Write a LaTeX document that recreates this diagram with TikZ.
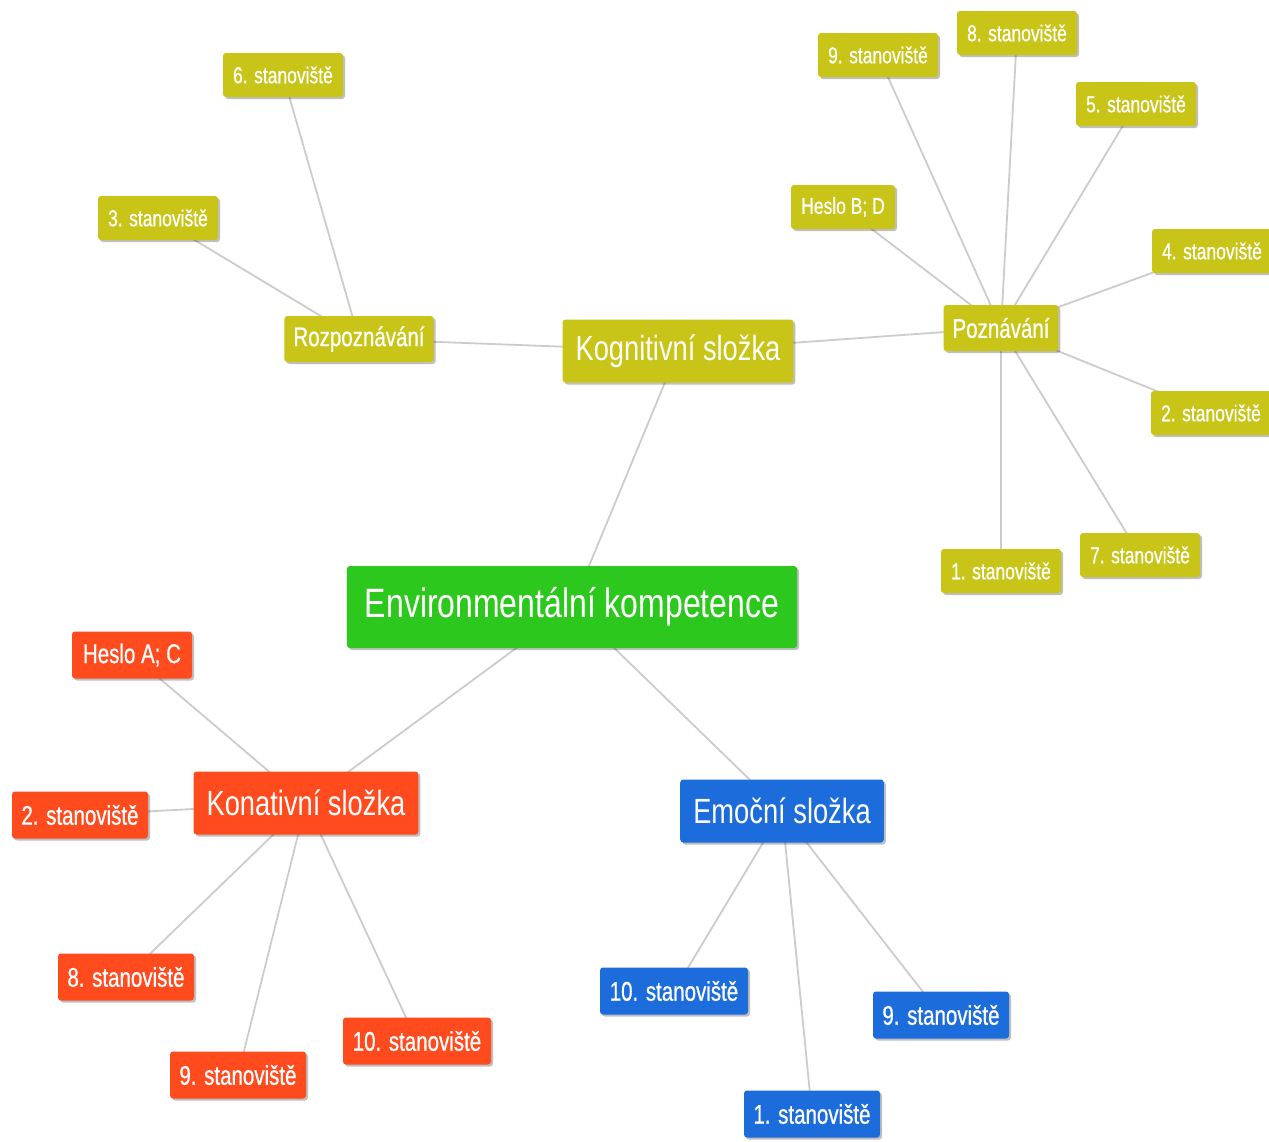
\documentclass[tikz,border=0pt]{standalone}
\usepackage{fontspec}
\setmainfont[FakeStretch=0.78]{Liberation Sans}
\newfontfamily\heavynarrow[FakeStretch=0.76,FakeBold=0.7]{Liberation Sans}
\usetikzlibrary{shadows,backgrounds}
\definecolor{ylw}{RGB}{201,196,24}
\definecolor{grn}{RGB}{45,200,30}
\definecolor{rd}{RGB}{255,75,30}
\definecolor{bl}{RGB}{28,108,220}
\definecolor{edgegray}{RGB}{204,204,204}
\tikzset{
  box/.style={rectangle, rounded corners=3pt, text=white, inner ysep=0pt,
    drop shadow={shadow xshift=2pt, shadow yshift=-2pt, opacity=0.25, fill=black}},
  ysmall/.style={box, fill=ylw, minimum width=120pt, minimum height=44pt, inner xsep=4pt,
    font=\heavynarrow\fontsize{23}{27}\selectfont},
  csmall/.style={box, minimum width=136pt, minimum height=47pt, inner xsep=4pt,
    font=\heavynarrow\fontsize{27}{31}\selectfont},
  rsmall/.style={csmall, fill=rd},
  bsmall/.style={csmall, fill=bl},
  midbox/.style={box, fill=ylw, minimum height=46pt, inner xsep=9pt,
    font=\heavynarrow\fontsize{27}{31}\selectfont},
  bigbox/.style={box, minimum height=63pt, inner xsep=13pt,
    font=\fontsize{35}{40}\selectfont},
  rootbox/.style={box, fill=grn, minimum height=82pt, inner xsep=18pt,
    font=\fontsize{41}{46}\selectfont},
  edge/.style={draw=edgegray, line width=1.8pt}
}
\begin{document}
\begin{tikzpicture}[x=1pt, y=-1pt]
\useasboundingbox (0,0) rectangle (1269,1141);
% root and main branches
\node[rootbox] (env) at (572,607) {Environmentální kompetence};
\node[bigbox, fill=ylw] (kog) at (678,351) {Kognitivní složka};
\node[bigbox, fill=rd] (kon) at (306,803) {Konativní složka};
\node[bigbox, fill=bl] (emo) at (782,811) {Emoční složka};
% cognitive
\node[midbox] (rozp) at (359,339) {Rozpoznávání};
\node[midbox] (pozn) at (1001,328) {Poznávání};
\node[ysmall] (ysix) at (283,75) {6. stanoviště};
\node[ysmall] (ythree) at (158,218) {3. stanoviště};
\node[ysmall] (ynine) at (878,55) {9. stanoviště};
\node[ysmall] (yeight) at (1017,33) {8. stanoviště};
\node[ysmall] (yfive) at (1136,104) {5. stanoviště};
\node[ysmall, minimum width=104pt] (hbd) at (843,207) {Heslo B; D};
\node[ysmall] (yfour) at (1212,251) {4. stanoviště};
\node[ysmall] (ytwo) at (1211,413) {2. stanoviště};
\node[ysmall] (yseven) at (1140,555) {7. stanoviště};
\node[ysmall] (yone) at (1001,571) {1. stanoviště};
% conative
\node[rsmall, minimum width=120pt] (hac) at (132,655) {Heslo A; C};
\node[rsmall] (rtwo) at (80,815) {2. stanoviště};
\node[rsmall] (reight) at (126,977) {8. stanoviště};
\node[rsmall] (rnine) at (238,1075) {9. stanoviště};
\node[rsmall, minimum width=148pt] (rten) at (417,1041) {10. stanoviště};
% emotional
\node[bsmall, minimum width=148pt] (bten) at (674,991) {10. stanoviště};
\node[bsmall] (bnine) at (941,1015) {9. stanoviště};
\node[bsmall] (bone) at (812,1114) {1. stanoviště};
\begin{scope}[on background layer]
  \fill[white] (0,0) rectangle (1269,1141);
  \draw[edge] (env.center) -- (kog.center);
  \draw[edge] (env.center) -- (kon.center);
  \draw[edge] (env.center) -- (emo.center);
  \draw[edge] (kog.center) -- (rozp.center);
  \draw[edge] (kog.center) -- (pozn.center);
  \draw[edge] (rozp.center) -- (ysix.center);
  \draw[edge] (rozp.center) -- (ythree.center);
  \foreach \t in {ynine,yeight,yfive,hbd,yfour,ytwo,yseven,yone}
    \draw[edge] (pozn.center) -- (\t.center);
  \foreach \t in {hac,rtwo,reight,rnine,rten}
    \draw[edge] (kon.center) -- (\t.center);
  \foreach \t in {bten,bnine,bone}
    \draw[edge] (emo.center) -- (\t.center);
\end{scope}
\end{tikzpicture}
\end{document}
